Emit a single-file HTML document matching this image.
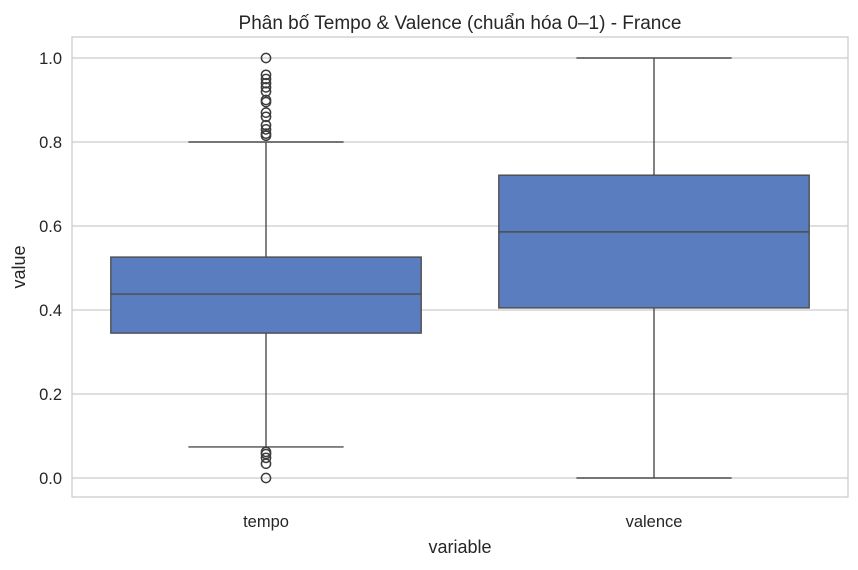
<!DOCTYPE html>
<html><head><meta charset="utf-8"><style>
body{margin:0;background:#fff;font-family:"Liberation Sans","DejaVu Sans",sans-serif}
svg text{font-family:"Liberation Sans","DejaVu Sans",sans-serif;fill:#262626}
</style></head><body>
<svg id="c" width="858" height="565"></svg>
<script>
const categories=["tempo","valence"];
const q1=[0.345,0.405];
const medians=[0.438,0.586];
const q3=[0.526,0.721];
const whiskLo=[0.074,0.0];
const whiskHi=[0.80,1.0];
const outliersTempo=[1.0,0.96,0.95,0.94,0.93,0.92,0.90,0.895,0.87,0.86,0.84,0.83,0.82,0.815,0.062,0.057,0.048,0.034,0.0];
const outliersValence=[];
const yTicks=[0.0,0.2,0.4,0.6,0.8,1.0];
const NS="http://www.w3.org/2000/svg";
const svg=document.getElementById('c');
const L=72,R=848,T=37,B=497;
const y=v=>478-v*420;
const band=(R-L)/categories.length;
const x=i=>L+band*(i+0.5);
function mk(t,a,p){const e=document.createElementNS(NS,t);for(const k in a)e.setAttribute(k,a[k]);(p||svg).appendChild(e);return e;}
yTicks.forEach(t=>{
 const g=mk('line',{x1:L,x2:R,y1:y(t),y2:y(t),stroke:'#cccccc','stroke-width':1.3});
 
 
 const tx=mk('text',{x:L-10,y:y(t)+6,'text-anchor':'end','font-size':16.5});
 tx.textContent=t.toFixed(1);
 
 
});
const frame=mk('rect',{x:L,y:T,width:R-L,height:B-T,fill:'none',stroke:'#cccccc','stroke-width':1.3});


const outs=[outliersTempo,outliersValence];
categories.forEach((c,i)=>{
 const cx=x(i),w=band*0.8,cap=w/2;
 const g=mk('g',{});
 
 
 mk('line',{x1:cx,x2:cx,y1:y(q3[i]),y2:y(whiskHi[i]),stroke:'#4d4d4d','stroke-width':1.4},g);
 mk('line',{x1:cx,x2:cx,y1:y(q1[i]),y2:y(whiskLo[i]),stroke:'#4d4d4d','stroke-width':1.4},g);
 mk('line',{x1:cx-cap/2,x2:cx+cap/2,y1:y(whiskHi[i]),y2:y(whiskHi[i]),stroke:'#4d4d4d','stroke-width':1.4},g);
 mk('line',{x1:cx-cap/2,x2:cx+cap/2,y1:y(whiskLo[i]),y2:y(whiskLo[i]),stroke:'#4d4d4d','stroke-width':1.4},g);
 mk('rect',{x:cx-w/2,y:y(q3[i]),width:w,height:y(q1[i])-y(q3[i]),fill:'#5a7dc0',stroke:'#4d4d4d','stroke-width':1.4},g);
 mk('line',{x1:cx-w/2,x2:cx+w/2,y1:y(medians[i]),y2:y(medians[i]),stroke:'#4d4d4d','stroke-width':1.4},g);
 outs[i].forEach(v=>{
  const o=mk('circle',{cx:cx,cy:y(v),r:4.6,fill:'none',stroke:'#3d3d3d','stroke-width':1.5});
  
  
 });
 const tx=mk('text',{x:cx,y:527,'text-anchor':'middle','font-size':16.5});
 tx.textContent=c;
 
 
});
</script>
<svg style="position:absolute;left:0;top:0" width="858" height="565">
<text x="460" y="29" text-anchor="middle" font-size="19">Phân bố Tempo &amp; Valence (chuẩn hóa 0–1) - France</text>
<text x="460" y="553" text-anchor="middle" font-size="18">variable</text>
<text x="25" y="267" text-anchor="middle" font-size="18" transform="rotate(-90 25 267)">value</text>
</svg>
</body></html>
